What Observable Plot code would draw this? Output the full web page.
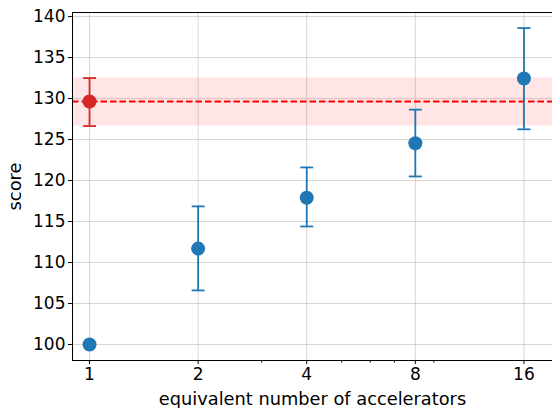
<!DOCTYPE html>
<html>
<head>
<meta charset="utf-8">
<script src="https://cdn.jsdelivr.net/npm/d3@7"></script>
<script src="https://cdn.jsdelivr.net/npm/@observablehq/plot@0.6"></script>
<style>
  html, body { margin: 0; padding: 0; background: #fff; }
  #chart svg { display: block; }
  #chart g[aria-label="x-axis label"], #chart g[aria-label="x-axis label"] text,
  #chart g[aria-label="y-axis label"], #chart g[aria-label="y-axis label"] text { font-size: 17.8px; }
</style>
</head>
<body>
<div id="chart"></div>
<script>
// Data
const accelerators = [1, 2, 4, 8, 16];
const scoreMean = [100, 111.7, 117.9, 124.55, 132.45];
const scoreLow = [null, 106.6, 114.4, 120.5, 126.25];
const scoreHigh = [null, 116.85, 121.6, 128.65, 138.6];

const baselineX = [1];
const baselineMean = [129.65];
const baselineLow = [126.65];
const baselineHigh = [132.5];

const xTicks = [1, 2, 4, 8, 16];
const xMinorTicks = [3, 5, 6, 7, 9];
const yTicks = [100, 105, 110, 115, 120, 125, 130, 135, 140];

const points = accelerators.map((x, i) => ({x, y: scoreMean[i], lo: scoreLow[i], hi: scoreHigh[i]}));
const errPoints = points.filter(d => d.lo != null);
const base = baselineX.map((x, i) => ({x, y: baselineMean[i], lo: baselineLow[i], hi: baselineHigh[i]}));

const xDomain = [0.897, 19.2];
const yDomain = [98.05, 140.5];

const capSymbol = {
  draw(context, size) {
    const r = Math.sqrt(size / Math.PI);
    context.moveTo(-r, 0);
    context.lineTo(r, 0);
  }
};

const blue = "#1f77b4";
const red = "#d62728";
const font = "DejaVu Sans, sans-serif";

const chart = Plot.plot({
  width: 552,
  height: 408,
  marginLeft: 72,
  marginRight: 0,
  marginTop: 12,
  marginBottom: 48,
  style: {fontFamily: font, fontSize: "17px", color: "#000", background: "#fff"},
  x: {type: "log", base: 2, domain: xDomain},
  y: {domain: yDomain},
  marks: [
    // grid
    Plot.gridX(xTicks, {stroke: "#b0b0b0", strokeOpacity: 0.5, strokeWidth: 1}),
    Plot.gridY(yTicks, {stroke: "#b0b0b0", strokeOpacity: 0.5, strokeWidth: 1}),
    // baseline band
    Plot.rectY(base, {x1: () => xDomain[0], x2: () => xDomain[1], y1: "lo", y2: "hi", fill: "red", fillOpacity: 0.1}),
    Plot.ruleY(base, {y: "y", stroke: "red", strokeWidth: 2, strokeDasharray: "6.5,3"}),
    // baseline error bar
    Plot.ruleX(base, {x: "x", y1: "lo", y2: "hi", stroke: red, strokeWidth: 1.8}),
    Plot.dot(base, {x: "x", y: "lo", symbol: capSymbol, r: 6.5, stroke: red, strokeWidth: 1.8}),
    Plot.dot(base, {x: "x", y: "hi", symbol: capSymbol, r: 6.5, stroke: red, strokeWidth: 1.8}),
    // error bars
    Plot.ruleX(errPoints, {x: "x", y1: "lo", y2: "hi", stroke: blue, strokeWidth: 1.8}),
    Plot.dot(errPoints, {x: "x", y: "lo", symbol: capSymbol, r: 6.5, stroke: blue, strokeWidth: 1.8}),
    Plot.dot(errPoints, {x: "x", y: "hi", symbol: capSymbol, r: 6.5, stroke: blue, strokeWidth: 1.8}),
    // points
    Plot.dot(points, {x: "x", y: "y", r: 7, fill: blue}),
    Plot.dot(base, {x: "x", y: "y", r: 7, fill: red}),
    // axes
    Plot.axisX(xTicks, {tickFormat: d => String(d), tickSize: 4, tickPadding: 3, fontSize: 17,
      label: "equivalent number of accelerators", labelAnchor: "center", labelArrow: "none", labelOffset: 44}),
    Plot.axisX(xMinorTicks, {tickFormat: () => "", tickSize: 2.5, label: null}),
    Plot.axisY(yTicks, {tickSize: 4, tickPadding: 3, fontSize: 17,
      label: "score", labelAnchor: "center", labelArrow: "none", labelOffset: 64}),
    // spines
    Plot.frame({anchor: "left", stroke: "#000", strokeWidth: 1}),
    Plot.frame({anchor: "top", stroke: "#000", strokeWidth: 1}),
    Plot.frame({anchor: "bottom", stroke: "#000", strokeWidth: 1})
  ]
});
document.getElementById("chart").appendChild(chart);
</script>
</body>
</html>
